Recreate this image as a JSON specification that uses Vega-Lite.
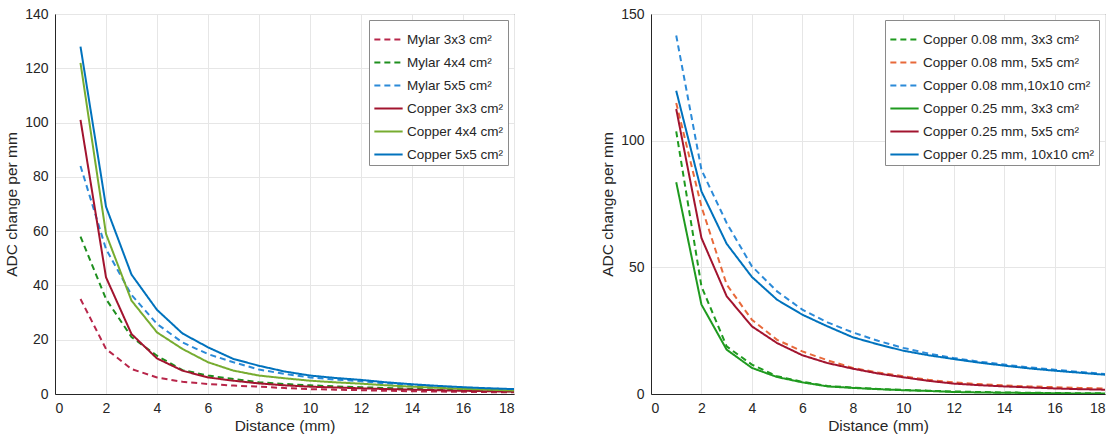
{
  "$schema": "https://vega.github.io/schema/vega-lite/v6.json",
  "padding": {"left": 4, "top": 6, "right": 2, "bottom": 2},
  "background": "white",
  "config": {
    "font": "Liberation Sans",
    "view": {"stroke": "#555555", "strokeWidth": 1},
    "axis": {
      "domainColor": "#262626",
      "gridColor": "#e6e6e6",
      "labelColor": "#262626",
      "titleColor": "#262626",
      "labelFontSize": 14,
      "titleFontSize": 15.5,
      "titleFontWeight": "normal",
      "ticks": false,
      "labelPadding": 7
    },
    "legend": {
      "orient": "top-right",
      "offset": 6,
      "fillColor": "white",
      "strokeColor": "#8a8a8a",
      "padding": 4,
      "labelFontSize": 13.5,
      "labelLimit": 300,
      "labelColor": "#262626",
      "labelOffset": 3,
      "symbolType": "stroke",
      "symbolSize": 800,
      "symbolStrokeWidth": 2,
      "rowPadding": 1,
      "title": null
    }
  },
  "datasets": {
    "left": [
      {"x":1,"y":35,"s":"Mylar 3x3 cm²"},{"x":2,"y":16.6,"s":"Mylar 3x3 cm²"},{"x":3,"y":9.2,"s":"Mylar 3x3 cm²"},{"x":4,"y":6.1,"s":"Mylar 3x3 cm²"},{"x":5,"y":4.5,"s":"Mylar 3x3 cm²"},{"x":6,"y":3.7,"s":"Mylar 3x3 cm²"},{"x":7,"y":3.1,"s":"Mylar 3x3 cm²"},{"x":8,"y":2.7,"s":"Mylar 3x3 cm²"},{"x":9,"y":2.2,"s":"Mylar 3x3 cm²"},{"x":10,"y":1.8,"s":"Mylar 3x3 cm²"},{"x":11,"y":1.6,"s":"Mylar 3x3 cm²"},{"x":12,"y":1.4,"s":"Mylar 3x3 cm²"},{"x":13,"y":1.2,"s":"Mylar 3x3 cm²"},{"x":14,"y":1.0,"s":"Mylar 3x3 cm²"},{"x":15,"y":0.9,"s":"Mylar 3x3 cm²"},{"x":16,"y":0.8,"s":"Mylar 3x3 cm²"},{"x":17,"y":0.7,"s":"Mylar 3x3 cm²"},{"x":18,"y":0.6,"s":"Mylar 3x3 cm²"},
      {"x":1,"y":58,"s":"Mylar 4x4 cm²"},{"x":2,"y":35,"s":"Mylar 4x4 cm²"},{"x":3,"y":21,"s":"Mylar 4x4 cm²"},{"x":4,"y":14.1,"s":"Mylar 4x4 cm²"},{"x":5,"y":8.8,"s":"Mylar 4x4 cm²"},{"x":6,"y":6.8,"s":"Mylar 4x4 cm²"},{"x":7,"y":5.5,"s":"Mylar 4x4 cm²"},{"x":8,"y":4.3,"s":"Mylar 4x4 cm²"},{"x":9,"y":3.7,"s":"Mylar 4x4 cm²"},{"x":10,"y":3.2,"s":"Mylar 4x4 cm²"},{"x":11,"y":2.8,"s":"Mylar 4x4 cm²"},{"x":12,"y":2.5,"s":"Mylar 4x4 cm²"},{"x":13,"y":2.2,"s":"Mylar 4x4 cm²"},{"x":14,"y":1.9,"s":"Mylar 4x4 cm²"},{"x":15,"y":1.6,"s":"Mylar 4x4 cm²"},{"x":16,"y":1.4,"s":"Mylar 4x4 cm²"},{"x":17,"y":1.2,"s":"Mylar 4x4 cm²"},{"x":18,"y":1.0,"s":"Mylar 4x4 cm²"},
      {"x":1,"y":84,"s":"Mylar 5x5 cm²"},{"x":2,"y":53.4,"s":"Mylar 5x5 cm²"},{"x":3,"y":36.5,"s":"Mylar 5x5 cm²"},{"x":4,"y":25.8,"s":"Mylar 5x5 cm²"},{"x":5,"y":19,"s":"Mylar 5x5 cm²"},{"x":6,"y":14.7,"s":"Mylar 5x5 cm²"},{"x":7,"y":11.7,"s":"Mylar 5x5 cm²"},{"x":8,"y":9.0,"s":"Mylar 5x5 cm²"},{"x":9,"y":7.4,"s":"Mylar 5x5 cm²"},{"x":10,"y":6.1,"s":"Mylar 5x5 cm²"},{"x":11,"y":5.3,"s":"Mylar 5x5 cm²"},{"x":12,"y":4.7,"s":"Mylar 5x5 cm²"},{"x":13,"y":3.9,"s":"Mylar 5x5 cm²"},{"x":14,"y":3.3,"s":"Mylar 5x5 cm²"},{"x":15,"y":2.8,"s":"Mylar 5x5 cm²"},{"x":16,"y":2.4,"s":"Mylar 5x5 cm²"},{"x":17,"y":2.0,"s":"Mylar 5x5 cm²"},{"x":18,"y":1.7,"s":"Mylar 5x5 cm²"},
      {"x":1,"y":101,"s":"Copper 3x3 cm²"},{"x":2,"y":43,"s":"Copper 3x3 cm²"},{"x":3,"y":22.1,"s":"Copper 3x3 cm²"},{"x":4,"y":13.1,"s":"Copper 3x3 cm²"},{"x":5,"y":8.6,"s":"Copper 3x3 cm²"},{"x":6,"y":6.1,"s":"Copper 3x3 cm²"},{"x":7,"y":4.9,"s":"Copper 3x3 cm²"},{"x":8,"y":3.9,"s":"Copper 3x3 cm²"},{"x":9,"y":3.2,"s":"Copper 3x3 cm²"},{"x":10,"y":2.7,"s":"Copper 3x3 cm²"},{"x":11,"y":2.4,"s":"Copper 3x3 cm²"},{"x":12,"y":2.1,"s":"Copper 3x3 cm²"},{"x":13,"y":1.8,"s":"Copper 3x3 cm²"},{"x":14,"y":1.6,"s":"Copper 3x3 cm²"},{"x":15,"y":1.4,"s":"Copper 3x3 cm²"},{"x":16,"y":1.2,"s":"Copper 3x3 cm²"},{"x":17,"y":1.0,"s":"Copper 3x3 cm²"},{"x":18,"y":0.9,"s":"Copper 3x3 cm²"},
      {"x":1,"y":122,"s":"Copper 4x4 cm²"},{"x":2,"y":59,"s":"Copper 4x4 cm²"},{"x":3,"y":34.4,"s":"Copper 4x4 cm²"},{"x":4,"y":22.7,"s":"Copper 4x4 cm²"},{"x":5,"y":16.6,"s":"Copper 4x4 cm²"},{"x":6,"y":11.7,"s":"Copper 4x4 cm²"},{"x":7,"y":8.6,"s":"Copper 4x4 cm²"},{"x":8,"y":6.8,"s":"Copper 4x4 cm²"},{"x":9,"y":5.8,"s":"Copper 4x4 cm²"},{"x":10,"y":4.9,"s":"Copper 4x4 cm²"},{"x":11,"y":4.3,"s":"Copper 4x4 cm²"},{"x":12,"y":3.8,"s":"Copper 4x4 cm²"},{"x":13,"y":3.2,"s":"Copper 4x4 cm²"},{"x":14,"y":2.7,"s":"Copper 4x4 cm²"},{"x":15,"y":2.3,"s":"Copper 4x4 cm²"},{"x":16,"y":1.9,"s":"Copper 4x4 cm²"},{"x":17,"y":1.6,"s":"Copper 4x4 cm²"},{"x":18,"y":1.3,"s":"Copper 4x4 cm²"},
      {"x":1,"y":128,"s":"Copper 5x5 cm²"},{"x":2,"y":69,"s":"Copper 5x5 cm²"},{"x":3,"y":44,"s":"Copper 5x5 cm²"},{"x":4,"y":31,"s":"Copper 5x5 cm²"},{"x":5,"y":22.3,"s":"Copper 5x5 cm²"},{"x":6,"y":17.2,"s":"Copper 5x5 cm²"},{"x":7,"y":12.9,"s":"Copper 5x5 cm²"},{"x":8,"y":10.4,"s":"Copper 5x5 cm²"},{"x":9,"y":8.3,"s":"Copper 5x5 cm²"},{"x":10,"y":6.8,"s":"Copper 5x5 cm²"},{"x":11,"y":5.9,"s":"Copper 5x5 cm²"},{"x":12,"y":5.2,"s":"Copper 5x5 cm²"},{"x":13,"y":4.3,"s":"Copper 5x5 cm²"},{"x":14,"y":3.6,"s":"Copper 5x5 cm²"},{"x":15,"y":3.0,"s":"Copper 5x5 cm²"},{"x":16,"y":2.5,"s":"Copper 5x5 cm²"},{"x":17,"y":2.1,"s":"Copper 5x5 cm²"},{"x":18,"y":1.8,"s":"Copper 5x5 cm²"}
    ],
    "right": [
      {"x":1,"y":103.7,"s":"Copper 0.08 mm, 3x3 cm²"},{"x":2,"y":42.5,"s":"Copper 0.08 mm, 3x3 cm²"},{"x":3,"y":18.8,"s":"Copper 0.08 mm, 3x3 cm²"},{"x":4,"y":11.6,"s":"Copper 0.08 mm, 3x3 cm²"},{"x":5,"y":7.0,"s":"Copper 0.08 mm, 3x3 cm²"},{"x":6,"y":4.8,"s":"Copper 0.08 mm, 3x3 cm²"},{"x":7,"y":3.2,"s":"Copper 0.08 mm, 3x3 cm²"},{"x":8,"y":2.5,"s":"Copper 0.08 mm, 3x3 cm²"},{"x":9,"y":2.0,"s":"Copper 0.08 mm, 3x3 cm²"},{"x":10,"y":1.6,"s":"Copper 0.08 mm, 3x3 cm²"},{"x":11,"y":1.3,"s":"Copper 0.08 mm, 3x3 cm²"},{"x":12,"y":1.0,"s":"Copper 0.08 mm, 3x3 cm²"},{"x":13,"y":0.8,"s":"Copper 0.08 mm, 3x3 cm²"},{"x":14,"y":0.6,"s":"Copper 0.08 mm, 3x3 cm²"},{"x":15,"y":0.5,"s":"Copper 0.08 mm, 3x3 cm²"},{"x":16,"y":0.4,"s":"Copper 0.08 mm, 3x3 cm²"},{"x":17,"y":0.3,"s":"Copper 0.08 mm, 3x3 cm²"},{"x":18,"y":0.3,"s":"Copper 0.08 mm, 3x3 cm²"},
      {"x":1,"y":114.9,"s":"Copper 0.08 mm, 5x5 cm²"},{"x":2,"y":74,"s":"Copper 0.08 mm, 5x5 cm²"},{"x":3,"y":43.2,"s":"Copper 0.08 mm, 5x5 cm²"},{"x":4,"y":29.3,"s":"Copper 0.08 mm, 5x5 cm²"},{"x":5,"y":21.4,"s":"Copper 0.08 mm, 5x5 cm²"},{"x":6,"y":16.8,"s":"Copper 0.08 mm, 5x5 cm²"},{"x":7,"y":13.3,"s":"Copper 0.08 mm, 5x5 cm²"},{"x":8,"y":10.3,"s":"Copper 0.08 mm, 5x5 cm²"},{"x":9,"y":8.5,"s":"Copper 0.08 mm, 5x5 cm²"},{"x":10,"y":7.0,"s":"Copper 0.08 mm, 5x5 cm²"},{"x":11,"y":5.6,"s":"Copper 0.08 mm, 5x5 cm²"},{"x":12,"y":4.6,"s":"Copper 0.08 mm, 5x5 cm²"},{"x":13,"y":3.9,"s":"Copper 0.08 mm, 5x5 cm²"},{"x":14,"y":3.4,"s":"Copper 0.08 mm, 5x5 cm²"},{"x":15,"y":3.0,"s":"Copper 0.08 mm, 5x5 cm²"},{"x":16,"y":2.7,"s":"Copper 0.08 mm, 5x5 cm²"},{"x":17,"y":2.4,"s":"Copper 0.08 mm, 5x5 cm²"},{"x":18,"y":2.2,"s":"Copper 0.08 mm, 5x5 cm²"},
      {"x":1,"y":141.5,"s":"Copper 0.08 mm,10x10 cm²"},{"x":2,"y":88.5,"s":"Copper 0.08 mm,10x10 cm²"},{"x":3,"y":67.5,"s":"Copper 0.08 mm,10x10 cm²"},{"x":4,"y":50.4,"s":"Copper 0.08 mm,10x10 cm²"},{"x":5,"y":40.5,"s":"Copper 0.08 mm,10x10 cm²"},{"x":6,"y":33.3,"s":"Copper 0.08 mm,10x10 cm²"},{"x":7,"y":28.3,"s":"Copper 0.08 mm,10x10 cm²"},{"x":8,"y":24.3,"s":"Copper 0.08 mm,10x10 cm²"},{"x":9,"y":21,"s":"Copper 0.08 mm,10x10 cm²"},{"x":10,"y":18.2,"s":"Copper 0.08 mm,10x10 cm²"},{"x":11,"y":16,"s":"Copper 0.08 mm,10x10 cm²"},{"x":12,"y":14.2,"s":"Copper 0.08 mm,10x10 cm²"},{"x":13,"y":12.8,"s":"Copper 0.08 mm,10x10 cm²"},{"x":14,"y":11.6,"s":"Copper 0.08 mm,10x10 cm²"},{"x":15,"y":10.5,"s":"Copper 0.08 mm,10x10 cm²"},{"x":16,"y":9.6,"s":"Copper 0.08 mm,10x10 cm²"},{"x":17,"y":8.7,"s":"Copper 0.08 mm,10x10 cm²"},{"x":18,"y":7.9,"s":"Copper 0.08 mm,10x10 cm²"},
      {"x":1,"y":83.6,"s":"Copper 0.25 mm, 3x3 cm²"},{"x":2,"y":35.3,"s":"Copper 0.25 mm, 3x3 cm²"},{"x":3,"y":17.5,"s":"Copper 0.25 mm, 3x3 cm²"},{"x":4,"y":10.3,"s":"Copper 0.25 mm, 3x3 cm²"},{"x":5,"y":6.7,"s":"Copper 0.25 mm, 3x3 cm²"},{"x":6,"y":4.6,"s":"Copper 0.25 mm, 3x3 cm²"},{"x":7,"y":3.0,"s":"Copper 0.25 mm, 3x3 cm²"},{"x":8,"y":2.4,"s":"Copper 0.25 mm, 3x3 cm²"},{"x":9,"y":1.9,"s":"Copper 0.25 mm, 3x3 cm²"},{"x":10,"y":1.5,"s":"Copper 0.25 mm, 3x3 cm²"},{"x":11,"y":1.2,"s":"Copper 0.25 mm, 3x3 cm²"},{"x":12,"y":0.8,"s":"Copper 0.25 mm, 3x3 cm²"},{"x":13,"y":0.6,"s":"Copper 0.25 mm, 3x3 cm²"},{"x":14,"y":0.5,"s":"Copper 0.25 mm, 3x3 cm²"},{"x":15,"y":0.4,"s":"Copper 0.25 mm, 3x3 cm²"},{"x":16,"y":0.3,"s":"Copper 0.25 mm, 3x3 cm²"},{"x":17,"y":0.2,"s":"Copper 0.25 mm, 3x3 cm²"},{"x":18,"y":0.2,"s":"Copper 0.25 mm, 3x3 cm²"},
      {"x":1,"y":112.5,"s":"Copper 0.25 mm, 5x5 cm²"},{"x":2,"y":61.6,"s":"Copper 0.25 mm, 5x5 cm²"},{"x":3,"y":38.6,"s":"Copper 0.25 mm, 5x5 cm²"},{"x":4,"y":26.7,"s":"Copper 0.25 mm, 5x5 cm²"},{"x":5,"y":20.1,"s":"Copper 0.25 mm, 5x5 cm²"},{"x":6,"y":15.3,"s":"Copper 0.25 mm, 5x5 cm²"},{"x":7,"y":12.2,"s":"Copper 0.25 mm, 5x5 cm²"},{"x":8,"y":10,"s":"Copper 0.25 mm, 5x5 cm²"},{"x":9,"y":8.1,"s":"Copper 0.25 mm, 5x5 cm²"},{"x":10,"y":6.6,"s":"Copper 0.25 mm, 5x5 cm²"},{"x":11,"y":5.2,"s":"Copper 0.25 mm, 5x5 cm²"},{"x":12,"y":4.1,"s":"Copper 0.25 mm, 5x5 cm²"},{"x":13,"y":3.5,"s":"Copper 0.25 mm, 5x5 cm²"},{"x":14,"y":3.0,"s":"Copper 0.25 mm, 5x5 cm²"},{"x":15,"y":2.6,"s":"Copper 0.25 mm, 5x5 cm²"},{"x":16,"y":2.2,"s":"Copper 0.25 mm, 5x5 cm²"},{"x":17,"y":1.9,"s":"Copper 0.25 mm, 5x5 cm²"},{"x":18,"y":1.7,"s":"Copper 0.25 mm, 5x5 cm²"},
      {"x":1,"y":119.7,"s":"Copper 0.25 mm, 10x10 cm²"},{"x":2,"y":80,"s":"Copper 0.25 mm, 10x10 cm²"},{"x":3,"y":59.3,"s":"Copper 0.25 mm, 10x10 cm²"},{"x":4,"y":46.2,"s":"Copper 0.25 mm, 10x10 cm²"},{"x":5,"y":37.2,"s":"Copper 0.25 mm, 10x10 cm²"},{"x":6,"y":31.3,"s":"Copper 0.25 mm, 10x10 cm²"},{"x":7,"y":26.7,"s":"Copper 0.25 mm, 10x10 cm²"},{"x":8,"y":22.4,"s":"Copper 0.25 mm, 10x10 cm²"},{"x":9,"y":19.6,"s":"Copper 0.25 mm, 10x10 cm²"},{"x":10,"y":17.1,"s":"Copper 0.25 mm, 10x10 cm²"},{"x":11,"y":15.3,"s":"Copper 0.25 mm, 10x10 cm²"},{"x":12,"y":13.8,"s":"Copper 0.25 mm, 10x10 cm²"},{"x":13,"y":12.4,"s":"Copper 0.25 mm, 10x10 cm²"},{"x":14,"y":11.2,"s":"Copper 0.25 mm, 10x10 cm²"},{"x":15,"y":10.1,"s":"Copper 0.25 mm, 10x10 cm²"},{"x":16,"y":9.2,"s":"Copper 0.25 mm, 10x10 cm²"},{"x":17,"y":8.4,"s":"Copper 0.25 mm, 10x10 cm²"},{"x":18,"y":7.6,"s":"Copper 0.25 mm, 10x10 cm²"}
    ]
  },
  "resolve": {"scale": {"color": "independent", "strokeDash": "independent"}, "legend": {"color": "independent", "strokeDash": "independent"}},
  "spacing": 85,
  "hconcat": [
    {
      "width": 459,
      "height": 380,
      "data": {"name": "left"},
      "mark": {"type": "line", "strokeWidth": 2, "clip": true},
      "encoding": {
        "x": {"field": "x", "type": "quantitative", "title": "Distance (mm)", "scale": {"domain": [0, 18], "nice": false}, "axis": {"values": [0,2,4,6,8,10,12,14,16,18], "titlePadding": 3}},
        "y": {"field": "y", "type": "quantitative", "title": "ADC change per mm", "scale": {"domain": [0, 140], "nice": false}, "axis": {"values": [0,20,40,60,80,100,120,140], "titlePadding": 5}},
        "color": {"field": "s", "type": "nominal", "scale": {"domain": ["Mylar 3x3 cm²","Mylar 4x4 cm²","Mylar 5x5 cm²","Copper 3x3 cm²","Copper 4x4 cm²","Copper 5x5 cm²"], "range": ["#B8264A","#1E8F1E","#2B8AD8","#A2142F","#77AC30","#0072BD"]}},
        "strokeDash": {"field": "s", "type": "nominal", "scale": {"domain": ["Mylar 3x3 cm²","Mylar 4x4 cm²","Mylar 5x5 cm²","Copper 3x3 cm²","Copper 4x4 cm²","Copper 5x5 cm²"], "range": [[6,4],[6,4],[6,4],[1,0],[1,0],[1,0]]}}
      }
    },
    {
      "width": 454,
      "height": 380,
      "data": {"name": "right"},
      "mark": {"type": "line", "strokeWidth": 2, "clip": true},
      "encoding": {
        "x": {"field": "x", "type": "quantitative", "title": "Distance (mm)", "scale": {"domain": [0, 18], "nice": false}, "axis": {"values": [0,2,4,6,8,10,12,14,16,18], "titlePadding": 3}},
        "y": {"field": "y", "type": "quantitative", "title": "ADC change per mm", "scale": {"domain": [0, 150], "nice": false}, "axis": {"values": [0,50,100,150], "titlePadding": 5}},
        "color": {"field": "s", "type": "nominal", "scale": {"domain": ["Copper 0.08 mm, 3x3 cm²","Copper 0.08 mm, 5x5 cm²","Copper 0.08 mm,10x10 cm²","Copper 0.25 mm, 3x3 cm²","Copper 0.25 mm, 5x5 cm²","Copper 0.25 mm, 10x10 cm²"], "range": ["#1F9A1F","#E8693A","#2B8AD8","#1F9A1F","#A2142F","#0072BD"]}},
        "strokeDash": {"field": "s", "type": "nominal", "scale": {"domain": ["Copper 0.08 mm, 3x3 cm²","Copper 0.08 mm, 5x5 cm²","Copper 0.08 mm,10x10 cm²","Copper 0.25 mm, 3x3 cm²","Copper 0.25 mm, 5x5 cm²","Copper 0.25 mm, 10x10 cm²"], "range": [[6,4],[6,4],[6,4],[1,0],[1,0],[1,0]]}}
      }
    }
  ]
}
